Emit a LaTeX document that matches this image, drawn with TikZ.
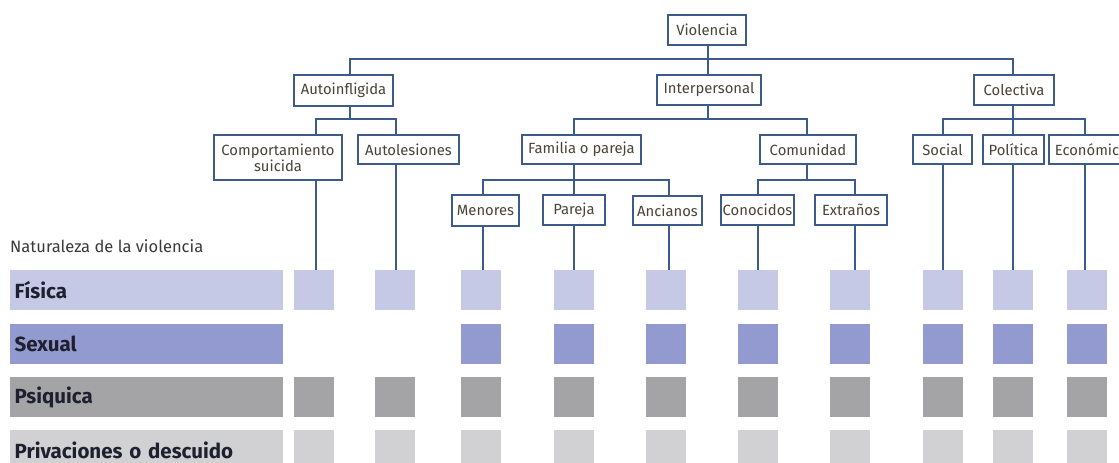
\documentclass[tikz,border=0pt]{standalone}
\usepackage{fontspec}
\setmainfont{Fira Sans}
\setsansfont{Fira Sans}
\definecolor{lineblue}{HTML}{3C5A8A}
\definecolor{boxtext}{HTML}{4A4438}
\definecolor{labeltext}{HTML}{1E2030}
\definecolor{nattext}{HTML}{3A3A3A}
\definecolor{cfis}{HTML}{C6C9E6}
\definecolor{csex}{HTML}{939ACF}
\definecolor{cpsi}{HTML}{A4A4A7}
\definecolor{cpri}{HTML}{D1D1D3}
\tikzset{
  box/.style={draw=lineblue, line width=1.2pt, fill=white, text=boxtext, inner sep=0pt,
    align=center, font=\fontsize{14.8}{16}\selectfont},
  link/.style={draw=lineblue, line width=1.6pt},
  bar/.style={anchor=north west, minimum height=40pt, text width=264pt, inner xsep=4.5pt,
    inner ysep=0pt, align=left, text=labeltext, font=\bfseries\fontsize{20.5}{21}\selectfont},
  sq/.style={anchor=north west, minimum width=40pt, minimum height=40pt, inner sep=0pt},
}
\begin{document}
\begin{tikzpicture}[x=1pt,y=-1pt]
\useasboundingbox (0,0) rectangle (1119,463);
\clip (0,0) rectangle (1119,463);
\fill[white] (0,0) rectangle (1119,463);

% bus levels and port columns
\coordinate (b1) at (0,59);
\coordinate (b2) at (0,119);
\coordinate (b3) at (0,180);
\coordinate (pv) at (708,0);
\coordinate (pa) at (350,0);
\coordinate (pc) at (1013,0);
\coordinate (pcomp) at (316,0);
\coordinate (pautol) at (396,0);
\coordinate (pfam) at (574,0);
\coordinate (pcomu) at (807,0);
\coordinate (psoc) at (943,0);
\coordinate (peco) at (1085,0);
\coordinate (pmen) at (483,0);
\coordinate (panc) at (669,0);
\coordinate (pcon) at (758,0);
\coordinate (pext) at (855,0);

% tree boxes
\node[box, minimum width=78pt, minimum height=30pt] (viol) at (707,30) {Violencia};
\node[box, minimum width=99pt, minimum height=31pt] (auto) at (343.5,90.5) {Autoinfligida};
\node[box, minimum width=104pt, minimum height=30pt] (inter) at (709,90) {Interpersonal};
\node[box, minimum width=80pt, minimum height=30pt] (colec) at (1014,90) {Colectiva};
\node[box, minimum width=128pt, minimum height=45pt] (comp) at (278,157.5) {Comportamiento\\suicida};
\node[box, minimum width=101pt, minimum height=29pt] (autol) at (408.5,149.5) {Autolesiones};
\node[box, minimum width=119pt, minimum height=29pt] (fam) at (581.5,149.5) {Familia o pareja};
\node[box, minimum width=96pt, minimum height=29pt] (comu) at (808,149.5) {Comunidad};
\node[box, minimum width=59pt, minimum height=29pt] (soc) at (942.5,149.5) {Social};
\node[box, minimum width=61pt, minimum height=29pt] (pol) at (1013.5,149.5) {Política};
\node[box, minimum width=84pt, minimum height=29pt] (eco) at (1091,149.5) {Económica};
\node[box, minimum width=67pt, minimum height=31pt] (men) at (485.5,210.5) {Menores};
\node[box, minimum width=62pt, minimum height=30pt] (par) at (574,210) {Pareja};
\node[box, minimum width=69pt, minimum height=29pt] (anc) at (667.5,210.5) {Ancianos};
\node[box, minimum width=73pt, minimum height=30pt] (con) at (757.5,210) {Conocidos};
\node[box, minimum width=72pt, minimum height=30pt] (ext) at (851,210) {Extraños};

% tree connectors
\draw[link] (auto.north -| pa) -- (b1 -| pa) -- (b1 -| pc) -- (colec.north -| pc);
\draw[link] (viol.south -| pv) -- (inter.north -| pv);
\draw[link] (auto.south -| pa) -- (b2 -| pa);
\draw[link] (comp.north -| pcomp) -- (b2 -| pcomp) -- (b2 -| pautol) -- (autol.north -| pautol);
\draw[link] (inter.south -| pv) -- (b2 -| pv);
\draw[link] (fam.north -| pfam) -- (b2 -| pfam) -- (b2 -| pcomu) -- (comu.north -| pcomu);
\draw[link] (colec.south -| pc) -- (b2 -| pc);
\draw[link] (soc.north -| psoc) -- (b2 -| psoc) -- (b2 -| peco) -- (eco.north -| peco);
\draw[link] (pol.north -| pc) -- (b2 -| pc);
\draw[link] (fam.south -| pfam) -- (b3 -| pfam);
\draw[link] (men.north -| pmen) -- (b3 -| pmen) -- (b3 -| panc) -- (anc.north -| panc);
\draw[link] (par.north -| pfam) -- (b3 -| pfam);
\draw[link] (comu.south -| pcomu) -- (b3 -| pcomu);
\draw[link] (con.north -| pcon) -- (b3 -| pcon) -- (b3 -| pext) -- (ext.north -| pext);

% legend
\node[anchor=west, inner sep=0pt, text=nattext, font=\fontsize{16.5}{18}\selectfont] (nat) at (10,246) {Naturaleza de la violencia};
\node[bar, fill=cfis] (lfis) at (10,270) {Física};
\node[bar, fill=csex] (lsex) at (10,324) {Sexual};
\node[bar, fill=cpsi] (lpsi) at (10,377) {Psiquica};
\node[bar, fill=cpri] (lpri) at (10,430) {Privaciones o descuido};

% squares
\foreach \x [count=\i] in {294,375,461,554,646,738,830,923,993,1067} {
  \node[sq, fill=cfis] (f\i) at (\x,270) {};
  \ifnum\i>2 \node[sq, fill=csex] (s\i) at (\x,324) {};\fi
  \node[sq, fill=cpsi] (p\i) at (\x,377) {};
  \node[sq, fill=cpri] (d\i) at (\x,430) {};
}

% connectors to squares
\foreach \n/\p [count=\i] in {comp/pcomp, autol/pautol, men/pmen, par/pfam, anc/panc,
    con/pcon, ext/pext, soc/psoc, pol/pc, eco/peco}
  \draw[link] (\n.south -| \p) -- (f\i.north -| \p);
\end{tikzpicture}
\end{document}
